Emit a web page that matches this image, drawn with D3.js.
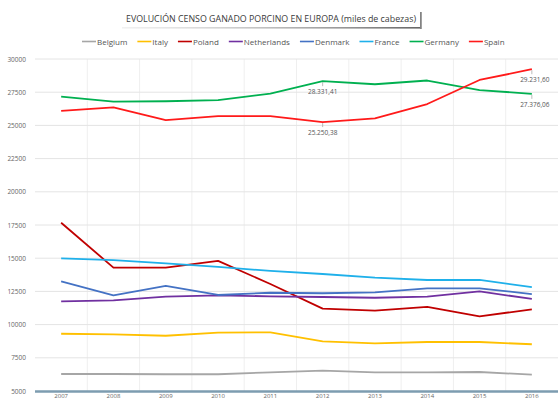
<!DOCTYPE html>
<html>
<head>
<meta charset="utf-8">
<script src="https://cdn.jsdelivr.net/npm/d3@7"></script>
<style>
  html, body { margin: 0; padding: 0; background: #fff; }
  svg { display: block; font-family: "Open Sans", "Noto Sans", sans-serif; }
</style>
</head>
<body>
<svg id="chart" width="558" height="400"></svg>
<script>
// Pig census by country, thousands of head
const years = ["2007","2008","2009","2010","2011","2012","2013","2014","2015","2016"];
const countries = ["Belgium","Italy","Poland","Netherlands","Denmark","France","Germany","Spain"];
const colors = ["#a6a6a6","#ffc000","#c00000","#7030a0","#4472c4","#1fb0ea","#00b050","#ff1a1a"];

const belgium     = [6280, 6280, 6260, 6260, 6410, 6530, 6410, 6410, 6430, 6230];
const italy       = [9310, 9260, 9160, 9390, 9420, 8740, 8590, 8690, 8690, 8520];
const poland      = [17670, 14290, 14290, 14800, 13060, 11200, 11050, 11340, 10620, 11150];
const netherlands = [11750, 11830, 12100, 12200, 12130, 12080, 12020, 12100, 12500, 11930];
const denmark     = [13250, 12200, 12920, 12230, 12400, 12360, 12430, 12730, 12730, 12300];
const france      = [14990, 14860, 14610, 14350, 14040, 13810, 13530, 13360, 13360, 12830];
const germany     = [27160, 26790, 26820, 26900, 27400, 28331.41, 28100, 28380, 27660, 27376.06];
const spain       = [26100, 26360, 25400, 25700, 25700, 25250.38, 25530, 26610, 28420, 29231.60];

const yTicks = [5000, 7500, 10000, 12500, 15000, 17500, 20000, 22500, 25000, 27500, 30000];

// Points that carry a value label: series index, year index
const valueLabels = [
  { s: 6, i: 5 }, { s: 6, i: 9 },
  { s: 7, i: 5 }, { s: 7, i: 9 }
];

const seriesValues = [belgium, italy, poland, netherlands, denmark, france, germany, spain];
const series = countries.map((name, k) => ({ name, color: colors[k], values: seriesValues[k] }));

const svg = d3.select("#chart");
const plotLeft = 35, plotRight = 558, plotTop = 59, plotBottom = 391;

const x = d3.scaleBand().domain(years).range([plotLeft, plotRight]);
const y = d3.scaleLinear().domain([5000, 30000]).range([plotBottom, plotTop]);
const cx = d => x(d) + x.bandwidth() / 2;

// Title with framed shadow box
const title = svg.append("text")
  .attr("x", 271).attr("y", 22)
  .attr("text-anchor", "middle")
  .attr("font-size", 9.8)
  .attr("textLength", 290)
  .attr("lengthAdjust", "spacingAndGlyphs")
  .attr("fill", "#3a3a3a")
  .text("EVOLUCIÓN CENSO GANADO PORCINO EN EUROPA (miles de cabezas)");
const tb = title.node().getBBox();
const defs = svg.append("defs");
const grad = defs.append("linearGradient").attr("id", "shadowGrad").attr("x1", 0).attr("x2", 1);
grad.append("stop").attr("offset", "0").attr("stop-color", "#bbb").attr("stop-opacity", 0.2);
grad.append("stop").attr("offset", "1").attr("stop-color", "#666").attr("stop-opacity", 1);
const bx0 = tb.x - 4, bx1 = tb.x + tb.width + 4, by0 = tb.y - 2, by1 = tb.y + tb.height + 2;
svg.append("rect")
  .attr("x", bx0).attr("y", by1).attr("width", bx1 - bx0).attr("height", 1.6)
  .attr("fill", "url(#shadowGrad)");
svg.append("rect")
  .attr("x", bx1).attr("y", by0 + 2).attr("width", 1.6).attr("height", by1 - by0)
  .attr("fill", "#777");

// Legend
const legend = svg.append("g").attr("font-size", 8).attr("fill", "#555");
let lx = 82;
series.forEach(s => {
  legend.append("line")
    .attr("x1", lx).attr("x2", lx + 14).attr("y1", 41.5).attr("y2", 41.5)
    .attr("stroke", s.color).attr("stroke-width", 1.6);
  const t = legend.append("text")
    .attr("x", lx + 15).attr("y", 44.5)
    .attr("fill", "#555")
    .text(s.name);
  lx += 15 + t.node().getComputedTextLength() + 10;
});

// Grid
const grid = svg.append("g");
grid.selectAll(".vg").data(years.slice(1)).join("line")
  .attr("x1", d => x(d)).attr("x2", d => x(d))
  .attr("y1", plotTop).attr("y2", plotBottom)
  .attr("stroke", "#efefef").attr("stroke-width", 1);
grid.selectAll(".hg").data(yTicks.slice(1)).join("line")
  .attr("x1", plotLeft).attr("x2", plotRight)
  .attr("y1", d => y(d)).attr("y2", d => y(d))
  .attr("stroke", "#e4e4e4").attr("stroke-width", 1);

// Y axis labels
const yAxis = svg.append("g")
  .attr("transform", `translate(${plotLeft - 6},0)`)
  .call(d3.axisLeft(y).tickValues(yTicks).tickFormat(d3.format("d")).tickSize(0));
yAxis.select(".domain").remove();
yAxis.selectAll("text").attr("font-size", 6.5).attr("fill", "#666")
  .attr("font-family", "'Open Sans', sans-serif");

// X axis
const xAxis = svg.append("g")
  .attr("transform", `translate(0,${plotBottom})`)
  .call(d3.axisBottom(x).tickSize(0).tickPadding(3));
xAxis.select(".domain").remove();
xAxis.selectAll("text").attr("font-size", 6).attr("fill", "#666")
  .attr("dy", "0.6em")
  .attr("font-family", "'Open Sans', sans-serif");
svg.append("line")
  .attr("x1", plotLeft).attr("x2", plotRight).attr("y1", plotBottom + 0.5).attr("y2", plotBottom + 0.5)
  .attr("stroke", "#7d9cb0").attr("stroke-width", 2.6);

// Lines
const line = d3.line().x((d, i) => cx(years[i])).y(d => y(d));
svg.append("g").selectAll("path").data(series).join("path")
  .attr("d", s => line(s.values))
  .attr("fill", "none")
  .attr("stroke", s => s.color)
  .attr("stroke-width", 1.8)
  .attr("stroke-linejoin", "round");

// Value labels with leader ticks
const fmt = v => {
  const [a, b] = v.toFixed(2).split(".");
  return a.replace(/\B(?=(\d{3})+(?!\d))/g, ".") + "," + b;
};
const lab = svg.append("g");
valueLabels.forEach(({ s, i }) => {
  const v = seriesValues[s][i];
  const px = cx(years[i]), py = y(v);
  lab.append("line")
    .attr("x1", px).attr("x2", px).attr("y1", py + 1).attr("y2", py + 5)
    .attr("stroke", "#aaa").attr("stroke-width", 0.8);
  lab.append("text")
    .attr("x", px + (i === 9 ? 3 : 0)).attr("y", py + 13)
    .attr("text-anchor", "middle")
    .attr("font-size", 6.5).attr("fill", "#555")
    .text(fmt(v));
});
</script>
</body>
</html>
